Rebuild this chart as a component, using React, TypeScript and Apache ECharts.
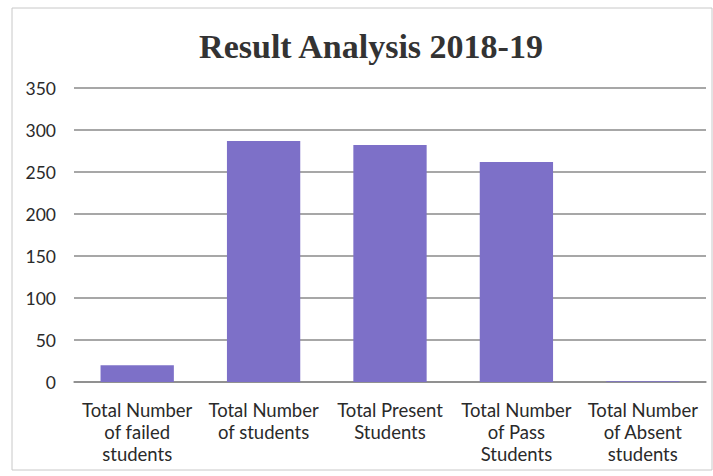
import React, { useEffect, useRef } from "react";
import * as echarts from "echarts";

const title = "Result Analysis 2018-19";
const categories = [
  "Total Number\nof failed\nstudents",
  "Total Number\nof students",
  "Total Present\nStudents",
  "Total Number\nof Pass\nStudents",
  "Total Number\nof Absent\nstudents",
];
const values = [20, 287, 282, 262, 1];
const yTicks = { min: 0, max: 350, interval: 50 };

export default function App() {
  const ref = useRef<HTMLDivElement>(null);
  useEffect(() => {
    document.body.style.margin = "0";
    const chart = echarts.init(ref.current!, null, { renderer: "svg" });
    chart.setOption({
      animation: false,
      backgroundColor: "#ffffff",
      title: {
        text: title,
        top: 24,
        left: 366,
        textAlign: "center",
        textStyle: {
          fontFamily: "Liberation Serif",
          fontWeight: "bold",
          fontSize: 34,
          color: "#333333",
        },
      },
      graphic: [
        {
          type: "rect",
          shape: { x: 12, y: 8, width: 700, height: 462 },
          style: { fill: "none", stroke: "#c8c8c8", lineWidth: 1 },
          silent: true,
        },
      ],
      grid: { left: 74, right: 7, top: 88, bottom: 94 },
      xAxis: {
        type: "category",
        data: categories,
        axisTick: { show: false },
        axisLine: { lineStyle: { color: "#8a8a8a", width: 1.5 } },
        axisLabel: {
          interval: 0,
          fontFamily: "Lato",
          fontSize: 18.5,
          color: "#2a2a2a",
          lineHeight: 22,
          margin: 17,
        },
      },
      yAxis: {
        type: "value",
        min: yTicks.min,
        max: yTicks.max,
        interval: yTicks.interval,
        axisLine: { show: false },
        axisTick: { show: false },
        splitLine: { lineStyle: { color: "#8a8a8a", width: 1.5 } },
        axisLabel: {
          fontFamily: "Lato",
          fontSize: 17.5,
          color: "#2a2a2a",
          margin: 18,
        },
      },
      series: [
        {
          type: "bar",
          data: values,
          barWidth: "58%",
          itemStyle: { color: "#7d70c8" },
        },
      ],
    });
    return () => chart.dispose();
  }, []);
  return <div ref={ref} style={{ width: 713, height: 476 }} />;
}
